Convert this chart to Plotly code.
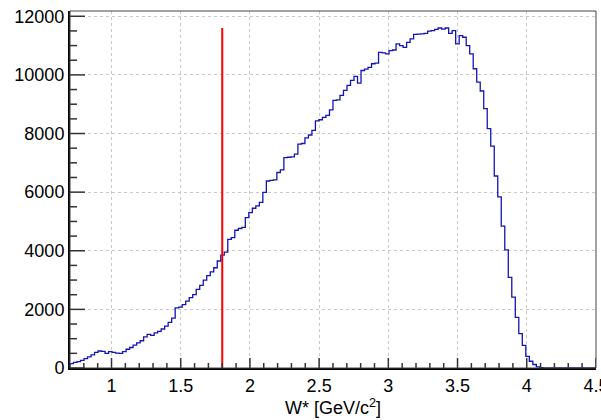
import numpy as np
import plotly.graph_objects as go

# Histogram: 150 bins from 0.7 to 4.5 GeV/c^2
x_min, x_max, n_bins = 0.7, 4.5, 150
counts = [
    150, 190, 220, 260, 320, 380, 450, 530, 580, 570,
    500, 560, 530, 510, 500, 560, 640, 700, 780, 860,
    930, 1060, 1150, 1110, 1200, 1250, 1330, 1430, 1560, 1700,
    2050, 2080, 2160, 2280, 2400, 2500, 2680, 2820, 3000, 3150,
    3280, 3420, 3650, 3850, 3950, 4390, 4450, 4700, 4760, 4800,
    5130, 5300, 5450, 5530, 5650, 5990, 6380, 6400, 6420, 6670,
    6760, 7180, 7190, 7200, 7300, 7640, 7660, 7850, 7950, 8110,
    8430, 8470, 8550, 8620, 8810, 9130, 9150, 9300, 9470, 9640,
    9810, 9950, 9720, 10150, 10200, 10260, 10380, 10400, 10770, 10750,
    10720, 10830, 10850, 11060, 11000, 10940, 11110, 11230, 11380, 11390,
    11400, 11420, 11490, 11510, 11550, 11600, 11560, 11600, 11420, 11510,
    11060, 11340, 11285, 11000, 10720, 10210, 9750, 9450, 8850, 8170,
    7570, 6550, 5840, 4840, 4030, 3090, 2420, 1730, 1170, 770,
    400, 230, 120, 40, 10, 0, 0, 0, 0, 0,
    0, 0, 0, 0, 0, 0, 0, 0, 0, 0,
]
cut_x = 1.8
x_title = "W* [GeV/c<sup>2</sup>]"
y_major, y_minor = 2000, 500
x_major, x_minor = 0.5, 0.1

edges = np.linspace(x_min, x_max, n_bins + 1)
peak = max(counts)
x_range = [x_min, x_max + 0.0005]
y_range = [0, peak * 1.05]

W, H = 601, 420
ML, MR, MT, MB = 70, 5, 11, 52
px_x = (x_range[1] - x_range[0]) / (W - ML - MR)   # data units per pixel (x)
px_y = (y_range[1] - y_range[0]) / (H - MT - MB)   # data units per pixel (y)

# inward-pointing axis ticks, built from the tick grids
tx, ty = [], []
for v in np.arange(0, y_range[1], y_minor):
    ln = 15 if abs(v % y_major) < 1e-6 else 7
    tx += [x_range[0], x_range[0] + ln * px_x, None]
    ty += [v, v, None]
for i, v in enumerate(np.arange(x_min, x_max + 1e-9, x_minor)):
    ln = 10 if abs((v / x_major) - round(v / x_major)) < 1e-6 else 5
    tx += [v, v, None]
    ty += [0, ln * px_y, None]

fig = go.Figure()
fig.add_trace(go.Scatter(
    x=edges, y=counts + [counts[-1]], mode="lines", line_shape="hv",
    line=dict(color="#1414b4", width=1.3), hoverinfo="skip", showlegend=False,
))
fig.add_trace(go.Scatter(
    x=[cut_x, cut_x], y=[0, peak], mode="lines",
    line=dict(color="#ff0000", width=2), showlegend=False,
))
fig.add_trace(go.Scatter(
    x=tx, y=ty, mode="lines", line=dict(color="#333", width=1.5),
    hoverinfo="skip", showlegend=False, cliponaxis=False,
))

font = dict(family="Liberation Sans, Arial, sans-serif", size=18, color="black")
fig.update_layout(
    width=W, height=H,
    margin=dict(l=ML, r=MR, t=MT, b=MB, autoexpand=False),
    paper_bgcolor="white", plot_bgcolor="white",
    font=font,
    xaxis=dict(
        range=x_range, tickmode="linear", tick0=0, dtick=x_major, ticks="",
        ticklabeloverflow="allow", automargin=False,
        showline=True, linecolor="black", linewidth=2, mirror=False,
        showgrid=True, gridcolor="#c8c8c8", griddash="dot", gridwidth=1,
        zeroline=False, tickfont=font,
        title=dict(text=x_title, font=font, standoff=0),
    ),
    yaxis=dict(
        range=y_range, tickmode="linear", tick0=0, dtick=y_major, ticks="",
        tickformat="d", automargin=False,
        showline=True, linecolor="black", linewidth=2, mirror=False,
        showgrid=True, gridcolor="#c8c8c8", griddash="dot", gridwidth=1,
        zeroline=False, tickfont=font,
    ),
    shapes=[dict(type="rect", xref="paper", yref="paper", x0=0, x1=1, y0=0, y1=1,
                 line=dict(color="#444", width=1), layer="above")],
)

fig.write_html("out.html")
